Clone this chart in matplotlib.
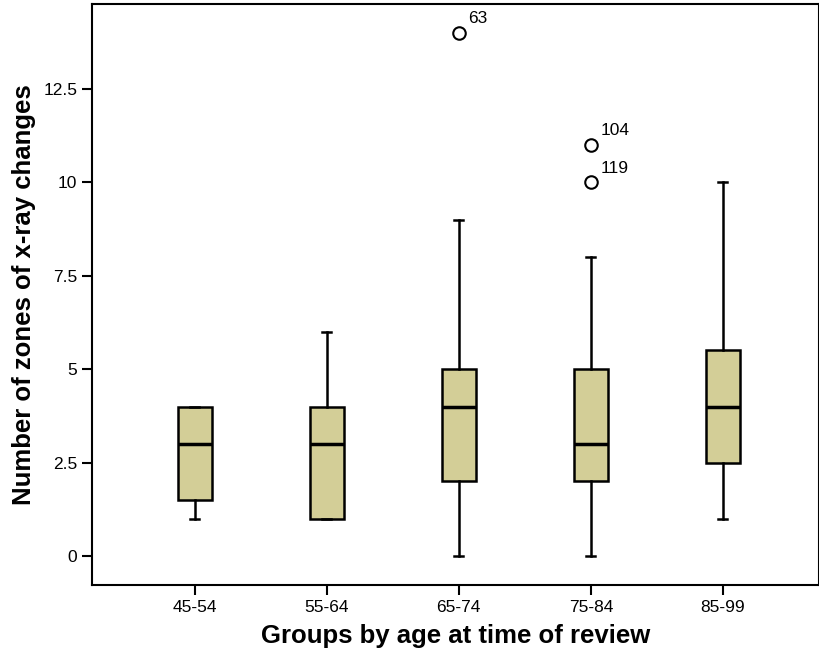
import matplotlib.pyplot as plt

plt.rcParams['font.family'] = ['Liberation Sans', 'DejaVu Sans']

groups = ['45-54', '55-64', '65-74', '75-84', '85-99']
whislo = [1, 1, 0, 0, 1]
q1 = [1.5, 1, 2, 2, 2.5]
med = [3, 3, 4, 3, 4]
q3 = [4, 4, 5, 5, 5.5]
whishi = [4, 6, 9, 8, 10]
fliers = [[], [], [14], [11, 10], []]
flier_ids = [[], [], ['63'], ['104', '119'], []]

stats = []
for i in range(len(groups)):
    stats.append(dict(label=groups[i], whislo=whislo[i], q1=q1[i], med=med[i],
                      q3=q3[i], whishi=whishi[i], fliers=fliers[i]))

fig = plt.figure(figsize=(8.2, 6.64), dpi=100)
ax = fig.add_axes([0.112, 0.119, 0.887, 0.875])

pos = list(range(1, len(groups) + 1))
ax.bxp(stats, positions=pos, widths=0.26, patch_artist=True,
       boxprops=dict(facecolor='#d3ce97', edgecolor='black', linewidth=1.8),
       medianprops=dict(color='black', linewidth=2.5),
       whiskerprops=dict(color='black', linewidth=1.8),
       capprops=dict(color='black', linewidth=1.8),
       flierprops=dict(marker='o', markersize=9, markerfacecolor='white',
                       markeredgecolor='black', markeredgewidth=1.5),
       capwidths=0.07)

for p, vals, ids in zip(pos, fliers, flier_ids):
    for v, t in zip(vals, ids):
        ax.annotate(t, (p, v), xytext=(7, 7), textcoords='offset points',
                    fontsize=12.5)

ax.set_xlim(0.22, 5.73)
ax.set_ylim(-0.78, 14.78)
ax.set_xticks(pos)
ax.set_xticklabels(groups)
ax.set_yticks([0, 2.5, 5, 7.5, 10, 12.5])
ax.set_yticklabels(['0', '2.5', '5', '7.5', '10', '12.5'])
ax.tick_params(axis='both', labelsize=12.5, width=1.5, length=7)
for s in ax.spines.values():
    s.set_linewidth(1.5)

ax.set_xlabel('Groups by age at time of review', fontsize=18.5, fontweight='bold', labelpad=7)
ax.set_ylabel('Number of zones of x-ray changes', fontsize=18.5, fontweight='bold', labelpad=5)

fig.savefig('out.png', dpi=100)
